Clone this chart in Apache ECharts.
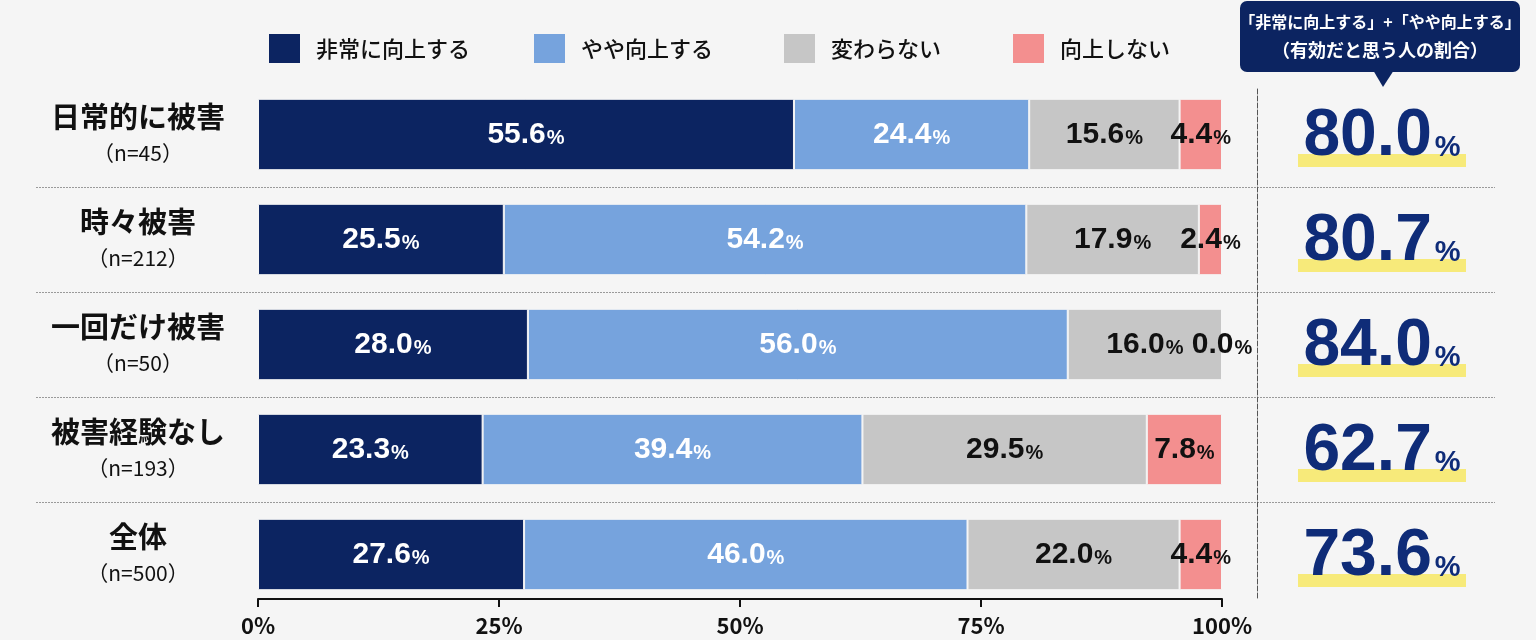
<!DOCTYPE html>
<html>
<head>
<meta charset="utf-8">
<script src="https://cdn.jsdelivr.net/npm/echarts@6/dist/echarts.min.js"></script>
<style>
  html, body { margin: 0; padding: 0; background: #f5f5f5; }
  #chart { width: 1536px; height: 640px; }
</style>
</head>
<body>
<div id="chart"></div>
<script>
// 回答の区分
var groups = ['日常的に被害', '時々被害', '一回だけ被害', '被害経験なし', '全体'];
var sampleSizes = ['45', '212', '50', '193', '500'];
var seriesNames = ['非常に向上する', 'やや向上する', '変わらない', '向上しない'];

// 各区分の割合(%)
var veryImprove = [55.6, 25.5, 28.0, 23.3, 27.6];
var someImprove = [24.4, 54.2, 56.0, 39.4, 46.0];
var noChange = [15.6, 17.9, 16.0, 29.5, 22.0];
var notImprove = [4.4, 2.4, 0.0, 7.8, 4.4];

// 「非常に向上する」+「やや向上する」
var effectiveRate = [80.0, 80.7, 84.0, 62.7, 73.6];

var xTicks = [0, 25, 50, 75, 100];

var colors = ['#0c2461', '#76a3dd', '#c6c6c6', '#f38f8f'];
var labelColors = ['#ffffff', '#ffffff', '#111111', '#111111'];
var jp = 'Noto Sans CJK JP';
var num = 'Liberation Sans';

var chart = echarts.init(document.getElementById('chart'));

var legendLeft = [262, 527, 777, 1006];
var legends = seriesNames.map(function (name, i) {
    return {
        data: [name],
        left: legendLeft[i],
        top: 27,
        icon: 'rect',
        itemWidth: 33,
        itemHeight: 31,
        textStyle: { fontFamily: jp, fontWeight: 500, fontSize: 22, color: '#111', padding: [0, 0, 0, 10] }
    };
});

function makeBar(name, data, i) {
    return {
        name: name,
        type: 'bar',
        stack: 'total',
        xAxisIndex: 0,
        yAxisIndex: 0,
        barWidth: '68%',
        data: data,
        itemStyle: { color: colors[i], borderColor: '#f5f5f5', borderWidth: 1 },
        label: {
            show: true,
            position: 'inside',
            formatter: function (p) { return '{v|' + p.value.toFixed(1) + '}{p|%}'; },
            rich: {
                v: { fontFamily: num, fontWeight: 'bold', fontSize: 30, color: labelColors[i] },
                p: { fontFamily: num, fontWeight: 'bold', fontSize: 20, color: labelColors[i], padding: [7, 0, 0, 1] }
            }
        }
    };
}

var option = {
    backgroundColor: '#f5f5f5',
    animation: false,
    legend: legends,
    grid: [
        { left: 258, right: 314, top: 82, bottom: 33 },
        { left: 1270, right: 42, top: 82, bottom: 33 },
        { left: 36, right: 41, top: 82, bottom: 33 },
        { left: 1257, right: 278, top: 88, bottom: 42 }
    ],
    xAxis: [
        {
            gridIndex: 0, type: 'value', min: 0, max: 100, interval: 25, offset: -8,
            axisLine: { show: true, lineStyle: { color: '#111', width: 2 } },
            axisTick: { show: true, length: 8, lineStyle: { color: '#111', width: 2 } },
            splitLine: { show: false },
            axisLabel: {
                margin: 16, fontFamily: jp, fontWeight: 'bold', fontSize: 22, color: '#111',
                formatter: function (v) { return xTicks.indexOf(v) >= 0 ? v + '%' : ''; }
            }
        },
        { gridIndex: 1, type: 'category', data: ['有効'], show: false },
        { gridIndex: 2, type: 'value', show: false },
        { gridIndex: 3, type: 'value', show: false }
    ],
    yAxis: [
        {
            gridIndex: 0, type: 'category', inverse: true, data: groups,
            axisLine: { show: false }, axisTick: { show: false },
            axisLabel: {
                align: 'center', margin: 120,
                formatter: function (v, i) { return '{a|' + v + '}\n{b|（n=' + sampleSizes[i] + '）}'; },
                rich: {
                    a: { fontFamily: jp, fontWeight: 'bold', fontSize: 29, color: '#111', lineHeight: 38 },
                    b: { fontFamily: jp, fontSize: 21, color: '#111', lineHeight: 36 }
                }
            }
        },
        { gridIndex: 1, type: 'category', inverse: true, data: groups, show: false },
        {
            gridIndex: 2, type: 'category', inverse: true, data: groups,
            axisLine: { show: false }, axisTick: { show: false }, axisLabel: { show: false },
            splitLine: {
                show: true, showMinLine: false, showMaxLine: false,
                lineStyle: { color: '#9a9a9a', width: 1, type: [2, 1] }
            }
        },
        {
            gridIndex: 3, type: 'value', min: 0, max: 1,
            axisLine: { show: true, lineStyle: { color: '#555', width: 1, type: [5, 2] } },
            axisTick: { show: false }, axisLabel: { show: false }, splitLine: { show: false }
        }
    ],
    graphic: [
        {
            type: 'group',
            children: [
                { type: 'rect', shape: { x: 1240, y: 1, width: 280, height: 71, r: 7 }, style: { fill: '#0c2461' } },
                { type: 'polygon', shape: { points: [[1373, 70], [1394, 70], [1383, 87]] }, style: { fill: '#0c2461' } },
                {
                    type: 'text', x: 1380, y: 22,
                    style: { text: '「非常に向上する」+「やや向上する」', fill: '#fff', font: 'bold 16px "Noto Sans CJK JP"', align: 'center', verticalAlign: 'middle' }
                },
                {
                    type: 'text', x: 1380, y: 50,
                    style: { text: '（有効だと思う人の割合）', fill: '#fff', font: 'bold 18px "Noto Sans CJK JP"', align: 'center', verticalAlign: 'middle' }
                }
            ]
        }
    ],
    series: [
        makeBar(seriesNames[0], veryImprove, 0),
        makeBar(seriesNames[1], someImprove, 1),
        makeBar(seriesNames[2], noChange, 2),
        makeBar(seriesNames[3], notImprove, 3),
        {
            type: 'scatter',
            xAxisIndex: 1, yAxisIndex: 1,
            symbol: 'rect', symbolSize: [168, 13], symbolOffset: [0, 26],
            itemStyle: { color: '#f7ea7a', opacity: 1 },
            silent: true,
            data: effectiveRate.map(function (v, i) { return [0, i]; })
        },
        {
            type: 'scatter',
            xAxisIndex: 1, yAxisIndex: 1,
            symbolSize: 0,
            silent: true,
            itemStyle: { opacity: 1 },
            data: effectiveRate.map(function (v, i) { return [0, i]; }),
            label: {
                show: true, position: 'inside', offset: [0, 2],
                formatter: function (p) { return '{n|' + effectiveRate[p.dataIndex].toFixed(1) + '}{p|%}'; },
                rich: {
                    n: { fontFamily: num, fontWeight: 'bold', fontSize: 66, color: '#0f2c78' },
                    p: { fontFamily: num, fontWeight: 'bold', fontSize: 29, color: '#0f2c78', padding: [22, 0, 0, 3] }
                }
            }
        }
    ]
};

chart.setOption(option);
</script>
</body>
</html>
